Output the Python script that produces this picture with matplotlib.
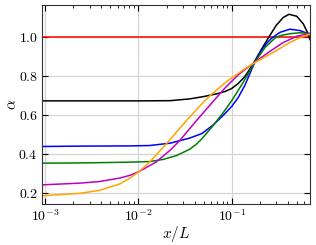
import numpy as np
import matplotlib
matplotlib.use('Agg')
import matplotlib.pyplot as plt

plt.rcParams['font.family'] = 'serif'
plt.rcParams['font.serif'] = ['cmr10']
plt.rcParams['mathtext.fontset'] = 'cm'
plt.rcParams['axes.formatter.use_mathtext'] = True
plt.rcParams['axes.unicode_minus'] = False

# values (log10 of x/L, alpha)
red_logx = [-3.04, -0.158]
red_y = [1.0, 1.0]

black_logx = [-3.04, -2.0, -1.66, -1.45, -1.30, -1.16, -1.07, -1.0, -0.93, -0.86, -0.82,
              -0.75, -0.68, -0.61, -0.52, -0.445, -0.383, -0.30, -0.23, -0.176, -0.158]
black_y = [0.672, 0.672, 0.673, 0.682, 0.694, 0.708, 0.720, 0.735, 0.760, 0.795, 0.823,
           0.876, 0.935, 0.990, 1.058, 1.098, 1.114, 1.104, 1.065, 1.012, 0.985]

blue_logx = [-3.04, -2.63, -2.1, -1.88, -1.66, -1.45, -1.32, -1.2, -1.09, -1.0, -0.93,
             -0.857, -0.80, -0.75, -0.68, -0.62, -0.57, -0.48, -0.373, -0.266, -0.158]
blue_y = [0.439, 0.441, 0.442, 0.444, 0.456, 0.482, 0.505, 0.548, 0.598, 0.643, 0.688,
          0.752, 0.815, 0.870, 0.930, 0.968, 0.992, 1.022, 1.038, 1.031, 1.012]

green_logx = [-3.04, -2.63, -2.1, -1.88, -1.735, -1.59, -1.45, -1.38, -1.32, -1.2, -1.09,
              -1.0, -0.89, -0.82, -0.75, -0.64, -0.534, -0.48, -0.373, -0.266, -0.158]
green_y = [0.354, 0.355, 0.359, 0.362, 0.373, 0.393, 0.425, 0.450, 0.478, 0.545, 0.612,
           0.672, 0.755, 0.812, 0.870, 0.945, 0.993, 1.005, 1.015, 1.020, 1.016]

magenta_logx = [-3.04, -2.63, -2.42, -2.2, -2.09, -1.99, -1.81, -1.66, -1.556, -1.45, -1.376,
                -1.233, -1.09, -1.018, -0.93, -0.75, -0.588, -0.445, -0.30, -0.158]
magenta_y = [0.243, 0.252, 0.260, 0.278, 0.292, 0.312, 0.360, 0.420, 0.470, 0.530, 0.572,
             0.650, 0.728, 0.763, 0.805, 0.870, 0.925, 0.970, 1.002, 1.017]

orange_logx = [-3.04, -2.63, -2.42, -2.2, -2.09, -1.99, -1.88, -1.74, -1.66, -1.52, -1.45,
               -1.376, -1.305, -1.233, -1.16, -1.09, -1.02, -0.93, -0.85, -0.75, -0.68,
               -0.606, -0.52, -0.445, -0.373, -0.30, -0.23, -0.158]
orange_y = [0.187, 0.200, 0.215, 0.248, 0.278, 0.312, 0.360, 0.432, 0.475, 0.552, 0.590,
            0.628, 0.664, 0.698, 0.728, 0.756, 0.782, 0.812, 0.838, 0.868, 0.886,
            0.905, 0.928, 0.950, 0.970, 0.987, 1.002, 1.013]

curves = [(red_logx, red_y, 'red'),
          (black_logx, black_y, 'black'),
          (blue_logx, blue_y, 'blue'),
          (green_logx, green_y, 'green'),
          (magenta_logx, magenta_y, 'm'),
          (orange_logx, orange_y, 'orange')]

fig = plt.figure(figsize=(3.16, 2.45), dpi=100)
ax = fig.add_axes([0.133, 0.167, 0.848, 0.813])

for lx, y, c in curves:
    ax.plot(10 ** np.array(lx), y, color=c, lw=1.1)

ax.set_xscale('log')
ax.set_xlim(10 ** -3.036, 10 ** -0.158)
ax.set_ylim(0.145, 1.162)
ax.set_yticks([0.2, 0.4, 0.6, 0.8, 1.0])
ax.grid(True, color='#d4d4d4', lw=0.9)
ax.set_axisbelow(True)
ax.tick_params(which='both', direction='in', top=True, right=True, labelsize=10)
ax.tick_params(which='major', length=4, pad=3)
ax.tick_params(which='minor', length=2)
for s in ax.spines.values():
    s.set_color('#333333')
ax.set_xlabel(r'$x/L$', fontsize=11)
ax.set_ylabel(r'$\alpha$', fontsize=11)
ax.xaxis.set_label_coords(0.5, -0.1)
ax.yaxis.set_label_coords(-0.085, 0.5)

fig.savefig('out.png', dpi=100)
